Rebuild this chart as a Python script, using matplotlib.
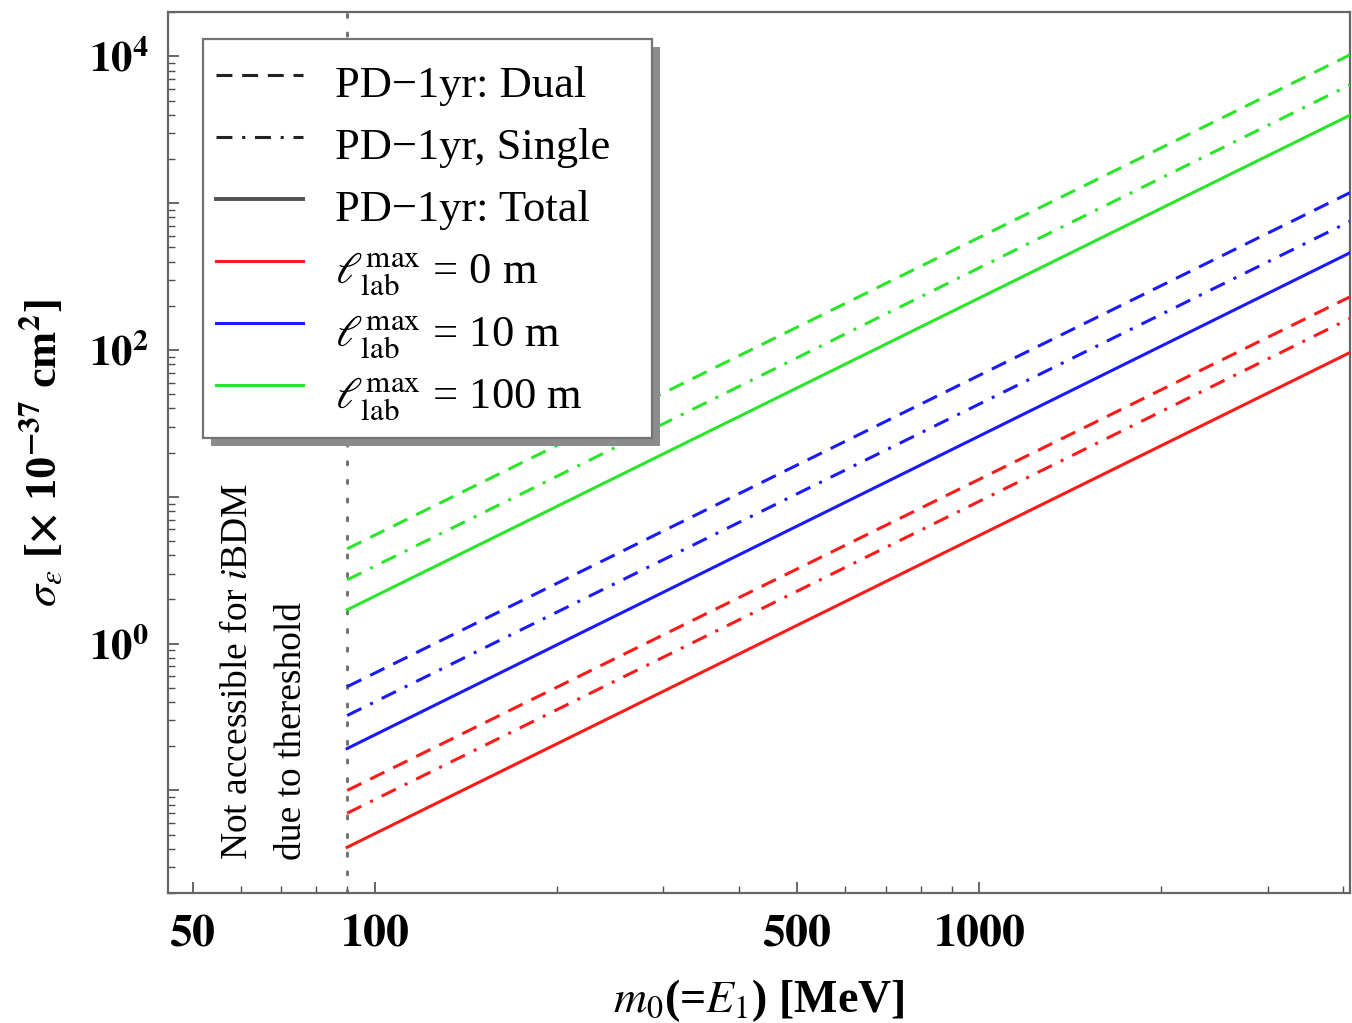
import matplotlib
matplotlib.use("Agg")
import matplotlib.pyplot as plt
from matplotlib.lines import Line2D
from matplotlib.patches import Shadow
from matplotlib.ticker import LogLocator, NullFormatter

plt.rcParams["font.family"] = ["Liberation Serif", "DejaVu Serif"]
plt.rcParams["mathtext.fontset"] = "stix"

# m0 end points of every curve (MeV) and cross sections
M0 = [90, 4100]
THRESHOLD = 90

SIGMA = {
    ("red", "total"): [0.041, 96],
    ("red", "single"): [0.070, 164],
    ("red", "dual"): [0.100, 230],
    ("blue", "total"): [0.193, 459],
    ("blue", "single"): [0.324, 751],
    ("blue", "dual"): [0.509, 1178],
    ("green", "total"): [1.70, 3972],
    ("green", "single"): [2.72, 6397],
    ("green", "dual"): [4.43, 10233],
}

COLORS = {"red": "#ff1a1a", "blue": "#1a1aff", "green": "#2ae62a"}
LW = 2.2
STYLES = {
    "dual": (0, (5.2, 3.2)),
    "single": (0, (5.2, 3.2, 1.0, 3.2)),
    "total": "-",
}

XTICKS = [50, 100, 500, 1000]
XTICK_LABELS = [r"$\mathbf{50}$", r"$\mathbf{100}$", r"$\mathbf{500}$", r"$\mathbf{1000}$"]
YTICKS = [1e-1, 1, 10, 100, 1e3, 1e4]
YTICK_LABELS = ["", r"$\mathbf{10^{0}}$", "", r"$\mathbf{10^{2}}$", "", r"$\mathbf{10^{4}}$"]

LEGEND_LABELS = [
    "PD\u22121yr: Dual",
    "PD\u22121yr, Single",
    "PD\u22121yr: Total",
    r"$\ell_{\mathrm{lab}}^{\mathrm{max}}$ = 0 m",
    r"$\ell_{\mathrm{lab}}^{\mathrm{max}}$ = 10 m",
    r"$\ell_{\mathrm{lab}}^{\mathrm{max}}$ = 100 m",
]

fig = plt.figure(figsize=(13.52, 10.23), dpi=100)
ax = fig.add_axes([0.1243, 0.127, 0.874, 0.861])
ax.set_xscale("log")
ax.set_yscale("log")
ax.set_xlim(45.5, 4100)
ax.set_ylim(0.02, 2e4)

for (col, kind), ys in SIGMA.items():
    ax.plot(M0, ys, color=COLORS[col], lw=LW, linestyle=STYLES[kind], zorder=3)

ax.axvline(THRESHOLD, color="0.45", lw=2.2, linestyle=(0, (1, 5.1)),
           dash_capstyle="round", zorder=2)

ax.text(0.082, 0.0375, "Not accessible for $\\it{i}$BDM\ndue to thereshold",
        transform=ax.transAxes, rotation=90, ha="center", va="bottom",
        fontsize=27, linespacing=1.74, multialignment="left")

for sp in ax.spines.values():
    sp.set_color("0.4")
    sp.set_linewidth(1.6)

ax.set_xticks(XTICKS)
ax.set_xticklabels(XTICK_LABELS)
ax.xaxis.set_minor_locator(LogLocator(base=10, subs=range(2, 10), numticks=20))
ax.xaxis.set_minor_formatter(NullFormatter())
ax.set_yticks(YTICKS)
ax.set_yticklabels(YTICK_LABELS)
ax.yaxis.set_minor_locator(LogLocator(base=10, subs=range(2, 10), numticks=20))
ax.yaxis.set_minor_formatter(NullFormatter())
ax.tick_params(which="both", direction="in", color="0.3", labelsize=31, pad=14)
ax.tick_params(axis="x", labelsize=33)
ax.tick_params(which="major", length=8, width=1.2)
ax.tick_params(which="minor", length=5, width=1.0)

ax.set_xlabel(r"$\boldsymbol{m_0}$(=$\boldsymbol{E_1}$) [MeV]", fontsize=33,
              fontweight="bold", labelpad=16)
ax.set_ylabel(r"$\boldsymbol{\sigma_\epsilon}$ [$\mathbf{\times}$ 10$^{\mathbf{-37}}$ cm$^{\mathbf{2}}$]",
              fontsize=32, fontweight="bold", labelpad=16)

handles = [
    Line2D([], [], color="#222222", lw=LW, linestyle=STYLES["dual"]),
    Line2D([], [], color="#222222", lw=LW, linestyle=STYLES["single"]),
    Line2D([], [], color="#555555", lw=LW * 1.3, linestyle="-"),
    Line2D([], [], color=COLORS["red"], lw=LW),
    Line2D([], [], color=COLORS["blue"], lw=LW),
    Line2D([], [], color=COLORS["green"], lw=LW),
]
leg = ax.legend(handles, LEGEND_LABELS, loc="upper left",
                bbox_to_anchor=(0.0296, 0.5, 0.380, 0.470), mode="expand",
                borderaxespad=0, fontsize=32, fancybox=False, framealpha=1,
                handlelength=1.95, handletextpad=0.72, handleheight=1.77,
                labelspacing=0.0, borderpad=0.3)
leg.get_frame().set_edgecolor("0.45")
leg.get_frame().set_linewidth(1.6)
leg.set_zorder(6)

fig.canvas.draw()
shadow = Shadow(leg.legendPatch, 6, -6, facecolor="0.55", edgecolor="none", alpha=1)
shadow.set_zorder(5.5)
ax.add_artist(shadow)

fig.savefig("out.png", dpi=100)
